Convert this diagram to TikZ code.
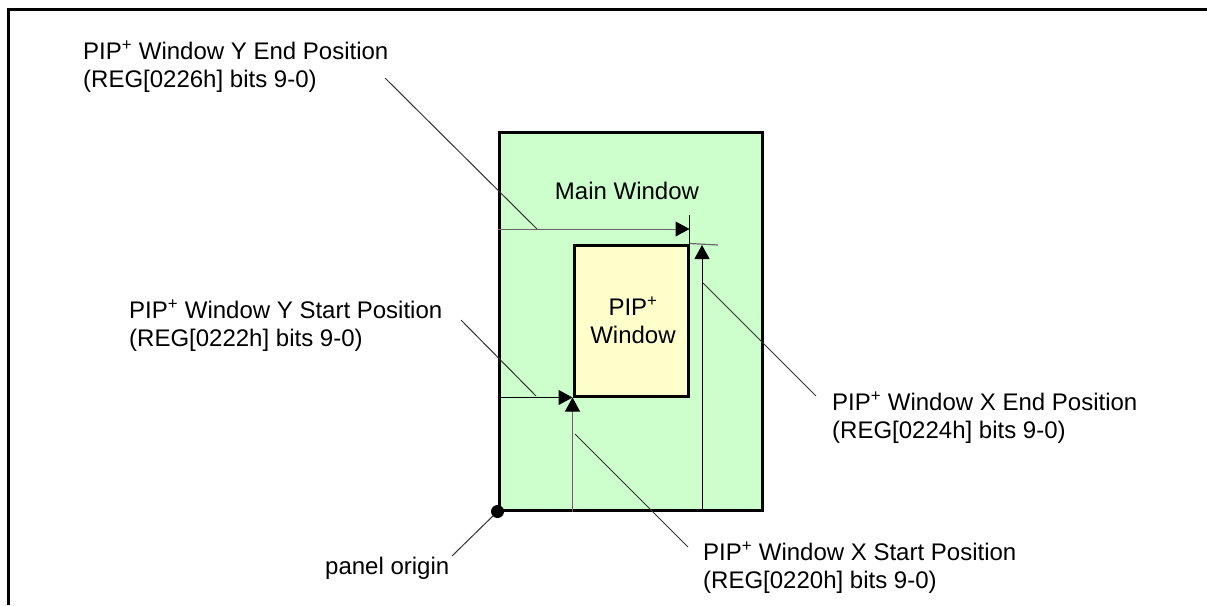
\documentclass[tikz,border=0pt]{standalone}
\usepackage{fontspec}
\setmainfont{Liberation Sans}
\usetikzlibrary{positioning, arrows.meta}
\definecolor{maingreen}{RGB}{204,255,204}
\definecolor{pipyellow}{RGB}{255,255,204}

\begin{document}
\begin{tikzpicture}[x=1pt, y=-1pt,
win/.style={rectangle, draw, line width=3pt, inner sep=0pt},
lbl/.style={anchor=base west, align=left, inner sep=0pt, font=\fontsize{24}{27.5}\selectfont},
arrow/.style={-{Triangle[length=14pt, width=15pt, color=black]}, line width=1pt},
leader/.style={line width=1pt, black!80}
]
\useasboundingbox (0,0) rectangle (1207,605);

% frame
\draw[line width=3pt] (8,605) -- (8,9) -- (1207,9);

% windows
\node[win, fill=maingreen, minimum width=263pt, minimum height=378pt] (main) at (630.5,321) {};
\node[win, fill=pipyellow, minimum width=114pt, minimum height=151pt] (pip) at (631,320.5) {};
\node[lbl, anchor=base] (maintxt) at (627,199) {Main Window};
\node[lbl, anchor=base, align=center] (piptxt) at (633,343) {PIP\textsuperscript{+}\\Window};

% end position marks
\coordinate (yend) at (pip.north east |- 0,229);
\coordinate (yendtick) at (pip.north east |- 0,215);
\coordinate (xend) at (702,245);
\coordinate (xendtick) at (718,245);
\draw[line width=1.2pt] (yendtick) -- (pip.north east);
\draw[line width=1.2pt, black!60] (pip.north east) -- (xendtick);
\draw[arrow, black!60] (main.west |- yend) -- (yend);
\draw[arrow] (main.south -| xend) -- (xend);

% start position marks
\draw[arrow] (main.west |- pip.south west) -- (pip.south west);
\draw[arrow, black!60] (main.south -| pip.south west) -- (pip.south west);

% panel origin
\node[circle, fill, inner sep=0pt, minimum size=13pt] (origin) at (main.south west) {};

% labels
\node[lbl] (yendlbl) at (83,87) {PIP\textsuperscript{+} Window Y End Position\\(REG[0226h] bits 9-0)};
\node[lbl] (ystartlbl) at (129,346) {PIP\textsuperscript{+} Window Y Start Position\\(REG[0222h] bits 9-0)};
\node[lbl] (xendlbl) at (832,438) {PIP\textsuperscript{+} Window X End Position\\(REG[0224h] bits 9-0)};
\node[lbl] (xstartlbl) at (703,588) {PIP\textsuperscript{+} Window X Start Position\\(REG[0220h] bits 9-0)};
\node[lbl] (originlbl) at (325,574) {panel origin};

% leaders
\coordinate (ye1) at (385,78);
\coordinate (ye2) at (537,229);
\coordinate (ys1) at (461,320);
\coordinate (ys2) at (536,396);
\coordinate (xe1) at (703,283);
\coordinate (xe2) at (816,396);
\coordinate (xs1) at (575,434);
\coordinate (xs2) at (688,547);
\coordinate (po) at (452,556);
\draw[leader] (ye1) -- (ye2);
\draw[leader] (ys1) -- (ys2);
\draw[leader] (xe1) -- (xe2);
\draw[leader] (xs1) -- (xs2);
\draw[leader] (origin) -- (po);

\end{tikzpicture}
\end{document}
